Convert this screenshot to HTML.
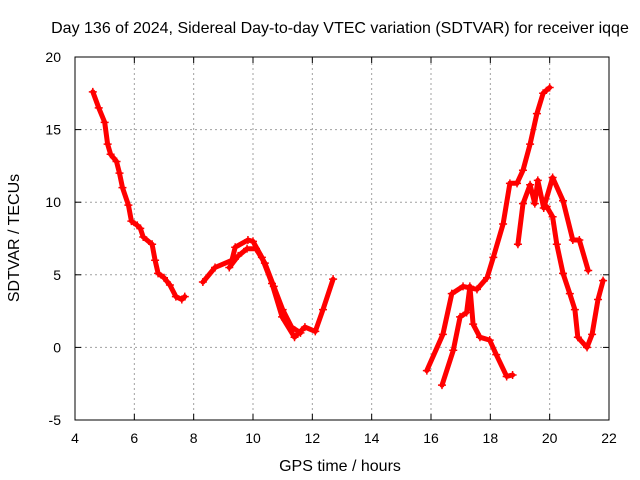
<!DOCTYPE html>
<html><head><meta charset="utf-8"><style>
html,body{margin:0;padding:0;background:#fff;}
svg{display:block;font-family:"Liberation Sans",sans-serif;}
</style></head><body>
<svg id="chart" width="640" height="480">
<text x="340" y="33" text-anchor="middle" font-size="16">Day 136 of 2024, Sidereal Day-to-day VTEC variation (SDTVAR) for receiver iqqe</text>
<text x="340" y="471" text-anchor="middle" font-size="16">GPS time / hours</text>
<text transform="translate(19,238) rotate(-90)" text-anchor="middle" font-size="16">SDTVAR / TECUs</text>
<g id="grid"></g>
<g id="ticks"></g>
<g id="series"></g>
<rect x="75" y="57" width="534" height="363" fill="none" stroke="#000" stroke-width="1"/>
</svg>
<script>
const xTicks=[4,6,8,10,12,14,16,18,20,22];
const yTicks=[-5,0,5,10,15,20];
const seriesA=[[4.6,17.6],[4.8,16.5],[5.0,15.5],[5.1,14],[5.2,13.3],[5.4,12.8],[5.5,12],[5.6,11],[5.8,9.8],[5.9,8.7],[6.1,8.4],[6.2,8.2],[6.3,7.6],[6.6,7.1],[6.7,6],[6.8,5.1],[7.0,4.8],[7.2,4.3],[7.4,3.5],[7.6,3.3],[7.7,3.5]];
const seriesB=[[8.31,4.5],[8.72,5.5],[9.29,6.0],[9.4,6.9],[9.83,7.4],[10.0,7.3],[10.3,6.2],[10.64,4.4],[10.98,2.1],[11.4,0.7],[11.75,1.4],[12.1,1.1],[12.36,2.6],[12.7,4.7]];
const seriesB2=[[9.2,5.5],[9.5,6.3],[9.8,6.8],[10.1,6.8],[10.4,5.8],[10.7,4.2],[11.0,2.6],[11.3,1.4],[11.6,1.0]];
const seriesC=[[15.86,-1.6],[16.4,0.9],[16.7,3.7],[17.08,4.2],[17.55,4.0],[17.89,4.8],[18.1,6.2],[18.43,8.5],[18.66,11.3],[18.9,11.3],[19.1,12.2],[19.34,14.0],[19.57,16.1],[19.78,17.5],[20.0,17.9]];
const seriesD=[[16.37,-2.6],[16.75,-0.2],[16.98,2.1],[17.2,2.4],[17.31,4.2],[17.42,1.6],[17.65,0.7],[17.98,0.5],[18.2,-0.5],[18.55,-2.0],[18.75,-1.9]];
const seriesE=[[18.93,7.1],[19.1,9.9],[19.34,11.2],[19.5,9.9],[19.6,11.5],[19.8,9.6],[20.1,11.7],[20.45,10.1],[20.78,7.4],[21.0,7.4],[21.3,5.3]];
const seriesF=[[19.9,9.7],[20.1,9.0],[20.24,7.1],[20.45,5.1],[20.68,3.7],[20.85,2.6],[20.95,0.7],[21.26,0.0],[21.43,0.9],[21.63,3.3],[21.8,4.6]];
const allSeries=[seriesA,seriesB,seriesB2,seriesC,seriesD,seriesE,seriesF];

const X0=75,X1=609,Y0=420,Y1=57,xmin=4,xmax=22,ymin=-5,ymax=20;
function sx(v){return X0+(v-xmin)/(xmax-xmin)*(X1-X0);}
function sy(v){return Y0-(v-ymin)/(ymax-ymin)*(Y0-Y1);}
const NS="http://www.w3.org/2000/svg";
function mk(tag,attrs,parent){const e=document.createElementNS(NS,tag);for(const k in attrs)e.setAttribute(k,attrs[k]);parent.appendChild(e);return e;}
const grid=document.getElementById('grid'),ticks=document.getElementById('ticks'),ser=document.getElementById('series');
xTicks.forEach(t=>{
  const x=sx(t);
  if(t>xmin&&t<xmax){const g=mk('line',{x1:x,y1:Y0,x2:x,y2:Y1,stroke:'#a0a0a0','stroke-dasharray':'2,3'},grid);
  
  }
  mk('line',{x1:x,y1:Y0,x2:x,y2:Y0-6,stroke:'#000'},ticks);
  mk('line',{x1:x,y1:Y1,x2:x,y2:Y1+6,stroke:'#000'},ticks);
  const l=mk('text',{x:x,y:Y0+23,'text-anchor':'middle','font-size':14},ticks);l.textContent=t;
  
  
});
yTicks.forEach(t=>{
  const y=sy(t);
  if(t>ymin&&t<ymax){const g=mk('line',{x1:X0,y1:y,x2:X1,y2:y,stroke:'#a0a0a0','stroke-dasharray':'2,3'},grid);
  
  }
  mk('line',{x1:X0,y1:y,x2:X0+6,y2:y,stroke:'#000'},ticks);
  mk('line',{x1:X1,y1:y,x2:X1-6,y2:y,stroke:'#000'},ticks);
  const l=mk('text',{x:X0-14,y:y+5,'text-anchor':'end','font-size':14},ticks);l.textContent=t;
  
  
});
allSeries.forEach(s=>{
  const pts=s.map(p=>sx(p[0]).toFixed(1)+','+sy(p[1]).toFixed(1)).join(' ');
  const pl=mk('polyline',{points:pts,fill:'none',stroke:'#ff0000','stroke-width':5,'stroke-linejoin':'round','stroke-linecap':'round'},ser);
  
  
  s.forEach(p=>{
    const x=sx(p[0]),y=sy(p[1]);
    const m=mk('path',{d:`M${x-4},${y}H${x+4}M${x},${y-4}V${y+4}`,stroke:'#ff0000','stroke-width':1.5},ser);
    
    
  });
});
</script>
</body></html>
